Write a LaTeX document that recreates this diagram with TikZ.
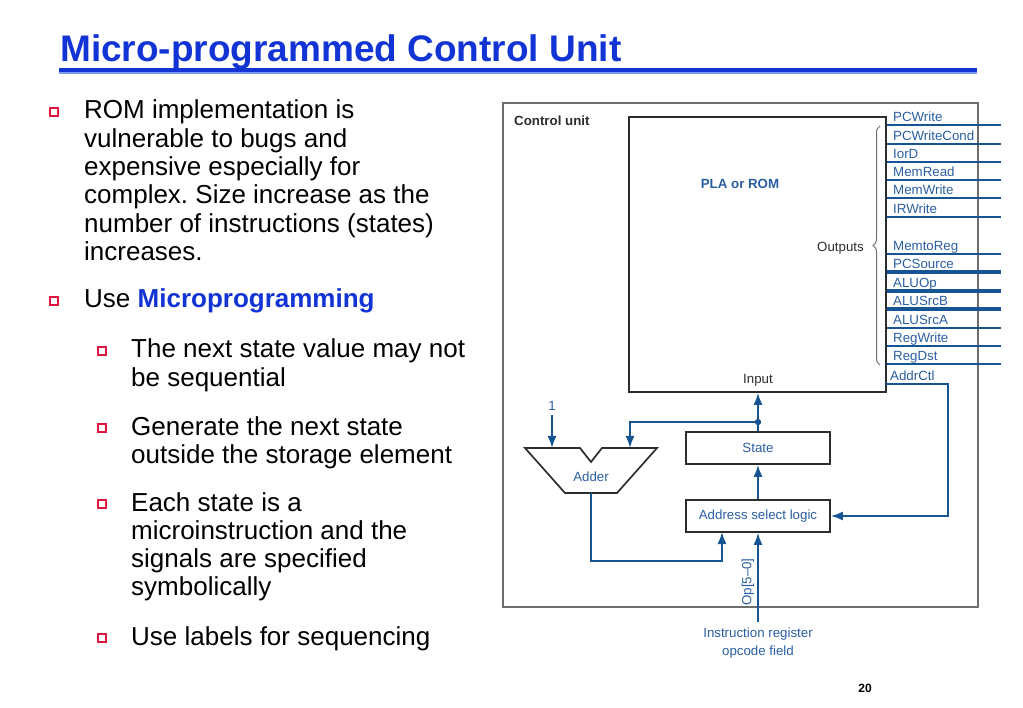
\documentclass[tikz,border=0pt]{standalone}
\usepackage{fontspec}
\setmainfont{Liberation Sans}
\usetikzlibrary{arrows.meta,decorations.pathreplacing,shadows}
\definecolor{titleblue}{RGB}{18,52,212}
\definecolor{ulight}{RGB}{120,155,235}
\definecolor{bred}{RGB}{222,20,62}
\definecolor{dblue}{RGB}{22,84,148}
\definecolor{lblue}{RGB}{42,94,162}
\definecolor{dgray}{RGB}{45,45,45}
\definecolor{bgray}{RGB}{110,110,110}
\frenchspacing
\begin{document}
\begin{tikzpicture}[x=1pt,y=-1pt,
  bsq/.style={draw=bred, fill=white, line width=1.3pt, minimum size=8pt, inner sep=0pt,
    drop shadow={shadow xshift=1.3pt, shadow yshift=-1.3pt, fill=bred, opacity=1}},
  btext/.style={anchor=base west, align=left, inner sep=0pt, font=\fontsize{26}{28.3}\selectfont},
  dtext/.style={inner sep=0pt, font=\fontsize{13.3}{18}\selectfont},
  sig/.style={anchor=base west, inner sep=0pt, text=lblue, font=\fontsize{13.3}{15}\selectfont},
  sline/.style={draw=dblue, line width=1.3pt},
  tline/.style={draw=dblue, line width=4pt},
  blk/.style={draw=dgray, line width=1.7pt},
  arr/.style={draw=dblue, line width=1.8pt, -{Latex[length=12pt,width=9pt]}},
]
\useasboundingbox (0,0) rectangle (1023,708);

% title
\node[anchor=base west, inner sep=0pt, text=titleblue, font=\fontsize{37}{40}\selectfont\bfseries] (title) at (60,62) {Micro-programmed Control Unit};
\draw[titleblue, line width=4pt] (59,70) -- (977,70);
\draw[ulight, line width=2pt] (59,73) -- (977,73);

% bullets (anchor = baseline of the last line)
\node[bsq] (b1) at (54,112) {};
\node[btext] (t1) at (84,260.5) {ROM implementation is\\vulnerable to bugs and\\expensive especially for\\complex. Size increase as the\\number of instructions (states)\\increases.};
\node[bsq] (b2) at (54,301) {};
\node[btext] (t2) at (84,308) {Use \textcolor{titleblue}{\bfseries Microprogramming}};
\node[bsq] (b3) at (102,351) {};
\node[btext] (t3) at (131,386.3) {The next state value may not\\be sequential};
\node[bsq] (b4) at (102,428) {};
\node[btext] (t4) at (131,463.3) {Generate the next state\\outside the storage element};
\node[bsq] (b5) at (102,504) {};
\node[btext] (t5) at (131,595.9) {Each state is a\\microinstruction and the\\signals are specified\\symbolically};
\node[bsq] (b6) at (102,638) {};
\node[btext] (t6) at (131,645) {Use labels for sequencing};

% page number
\node[font=\fontsize{12}{14}\selectfont\bfseries] (pg) at (865,688) {20};

% control unit box
\node[draw=bgray, line width=1.2pt, minimum width=475pt, minimum height=504pt, inner sep=0pt] (cu) at (740.5,355) {};
\node[dtext, anchor=west, text=dgray, font=\fontsize{13.3}{15}\selectfont\bfseries] (cul) at (514,121) {Control unit};

% PLA
\node[blk, minimum width=257pt, minimum height=275pt, inner sep=0pt] (pla) at (757.5,254.5) {};
\node[dtext, text=lblue, font=\fontsize{13.3}{15}\selectfont\bfseries] (plal) at (740,184) {PLA or ROM};
\node[dtext, text=dgray] (inp) at (758,380) {Input};
\node[dtext, text=dgray, anchor=east] (outl) at (864,248) {Outputs};
\draw[bgray, line width=1pt, decorate, decoration={brace, amplitude=7pt}] (880,365) -- (880,126);

% output signals
\foreach \y/\t/\w [count=\i] in {125/PCWrite/sline, 144/PCWriteCond/sline, 162/IorD/sline, 180/MemRead/sline, 198/MemWrite/sline, 217/IRWrite/sline, 254/MemtoReg/sline, 272/PCSource/tline, 291/ALUOp/tline, 309/ALUSrcB/tline, 328/ALUSrcA/sline, 346/RegWrite/sline, 364/RegDst/sline} {
  \coordinate (s\i) at (1001,\y);
  \draw[\w] (pla.east |- s\i) -- (s\i);
  \node[sig] (l\i) at (893,\y-3.5) {\t};
}
\node[sig] (ac) at (890,381) {AddrCtl};

% lower blocks
\node[blk, minimum width=144pt, minimum height=32pt, inner sep=0pt, text=lblue, font=\fontsize{13.3}{15}\selectfont] (state) at (758,448) {State};
\node[blk, minimum width=144pt, minimum height=32pt, inner sep=0pt, text=lblue, font=\fontsize{13.3}{15}\selectfont] (asl) at (758,516) {Address select logic};

% adder
\draw[blk, line join=miter] (525,448) -- (580,448) -- (591,462) -- (602,448) -- (657,448) -- (617,493) -- (565,493) -- cycle;
\node[dtext, text=lblue] (adder) at (591,477) {Adder};
\coordinate (addin1) at (552,448);
\coordinate (addin2) at (630,448);
\coordinate (addout) at (591,493);
\node[dtext, text=lblue, anchor=south] (one) at (552,411) {1};

% connectors
\coordinate (j) at (758,422);
\draw[arr] (state.north) -- (state.north |- pla.south);
\fill[dblue] (j) circle (3.2pt);
\draw[arr] (j) -| (addin2);
\draw[arr] ([yshift=-4pt]one.south) -- (addin1);
\draw[arr] (asl.north) -- (state.south);
\coordinate (aslin) at (722,532);
\draw[arr] (addout) -- (591,561) -| (aslin);
\coordinate (irtop) at (758,622);
\draw[arr] (irtop) -- (asl.south);
\node[dtext, text=lblue, rotate=90] (op) at (748,582) {Op[5--0]};
\node[dtext, text=lblue, align=center] (ir) at (758,643) {Instruction register\\opcode field};
\coordinate (acout) at (886,384);
\draw[arr] (acout) -- (948,384) |- (asl.east);
\end{tikzpicture}
\end{document}
